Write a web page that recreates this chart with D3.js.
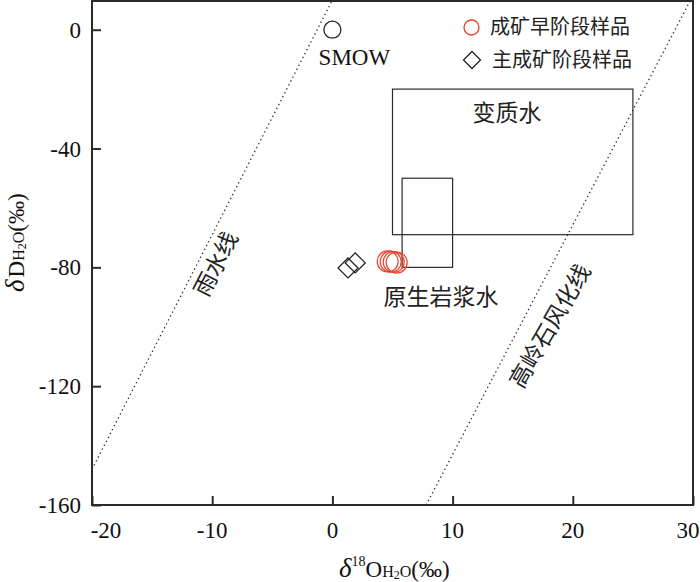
<!DOCTYPE html>
<html><head><meta charset="utf-8">
<script src="https://cdn.jsdelivr.net/npm/d3@7"></script>
<style>
body{margin:0;background:#fff;}
svg{display:block;}
.serif{font-family:"Liberation Serif","Times New Roman",serif;}
.cjk{font-family:"Noto Sans CJK SC","Noto Sans CJK JP",sans-serif;}
</style></head>
<body>
<svg id="chart" width="700" height="582"></svg>
<script>
// ---- data ----
const xTicks = [-20, -10, 0, 10, 20, 30];
const yTicks = [-160, -120, -80, -40, 0];
const smow = [{x: 0, y: 0}];
const earlyStage = [{x: 4.6, y: -78.0}, {x: 4.85, y: -78.1}, {x: 5.1, y: -78.2}, {x: 5.35, y: -78.4}];
const mainStage = [{x: 1.3, y: -80.2}, {x: 1.9, y: -78.5}];
const boxes = [
  {name: "变质水", x0: 5, x1: 25, y0: -69, y1: -20},
  {name: "原生岩浆水", x0: 5.8, x1: 10, y0: -80, y1: -50}
];
const meteoricLine = [{x: -20, y: -148}, {x: 0, y: 10}];
const kaoliniteLine = [{x: 7.8, y: -160}, {x: 29.8, y: 10}];
const legendItems = ["成矿早阶段样品", "主成矿阶段样品"];

// ---- layout ----
const svg = d3.select("#chart");
const X0 = 92, X1 = 693, Y0 = 505, Y1 = 0;
const x = d3.scaleLinear().domain([-20, 30]).range([X0, X1]);
const y = d3.scaleLinear().domain([-160, 10]).range([Y0, Y1]);
const ink = "#2b2b2b";
const red = "#e8432c";

// clip
svg.append("defs").append("clipPath").attr("id", "clip")
  .append("rect").attr("x", X0).attr("y", Y1).attr("width", X1 - X0).attr("height", Y0 - Y1);

// dotted lines
const line = d3.line().x(d => x(d.x)).y(d => y(d.y));
[meteoricLine, kaoliniteLine].forEach(l => {
  svg.append("path").attr("d", line(l)).attr("clip-path", "url(#clip)")
    .attr("fill", "none").attr("stroke", "#333").attr("stroke-width", 1.3)
    .attr("stroke-dasharray", "1.4,3");
});

// boxes
svg.selectAll("rect.box").data(boxes).enter().append("rect").attr("class", "box")
  .attr("x", d => x(d.x0)).attr("y", d => y(d.y1))
  .attr("width", d => x(d.x1) - x(d.x0)).attr("height", d => y(d.y0) - y(d.y1))
  .attr("fill", "none").attr("stroke", ink).attr("stroke-width", 1.2);

// frame
svg.append("rect").attr("x", X0).attr("y", Y1 + 1).attr("width", X1 - X0).attr("height", Y0 - Y1 - 1)
  .attr("fill", "none").attr("stroke", ink).attr("stroke-width", 2);

// axes (ticks inward)
const xAxis = d3.axisTop(x).tickValues(xTicks).tickSize(9).tickFormat("");
const gx = svg.append("g").attr("transform", `translate(0,${Y0})`).call(xAxis);
gx.select(".domain").remove();
gx.selectAll("line").attr("stroke", ink).attr("stroke-width", 2);
const yAxis = d3.axisRight(y).tickValues(yTicks).tickSize(9).tickFormat("");
const gy = svg.append("g").attr("transform", `translate(${X0},0)`).call(yAxis);
gy.select(".domain").remove();
gy.selectAll("line").attr("stroke", ink).attr("stroke-width", 2);

// tick labels
svg.selectAll("text.xt").data(xTicks).enter().append("text").attr("class", "serif")
  .attr("x", d => Math.max(106, Math.min(x(d), 688))).attr("y", 538).attr("text-anchor", "middle")
  .attr("font-size", 23).attr("fill", "#111").text(d => d);
svg.selectAll("text.yt").data(yTicks).enter().append("text").attr("class", "serif")
  .attr("x", 81).attr("y", d => y(d) + 8).attr("text-anchor", "end")
  .attr("font-size", 23).attr("fill", "#111").text(d => d);

// axis titles
const xt = svg.append("text").attr("class", "serif").attr("x", 339).attr("y", 577)
  .attr("font-size", 23).attr("fill", "#111");
xt.append("tspan").attr("font-style", "italic").attr("font-size", 27).text("δ");
xt.append("tspan").attr("font-size", 14).attr("dy", -11).text("18");
xt.append("tspan").attr("dy", 11).text("O");
xt.append("tspan").attr("font-size", 16).text("H");
xt.append("tspan").attr("font-size", 12).attr("dy", 2).text("2");
xt.append("tspan").attr("font-size", 16).attr("dy", -2).text("O");
xt.append("tspan").text("(‰)");

const yt = svg.append("text").attr("class", "serif")
  .attr("transform", "translate(24,292) rotate(-90)")
  .attr("font-size", 23).attr("fill", "#111");
yt.append("tspan").attr("font-style", "italic").attr("font-size", 27).text("δ");
yt.append("tspan").attr("dx", 2).text("D");
yt.append("tspan").attr("font-size", 16).text("H");
yt.append("tspan").attr("font-size", 12).attr("dy", 2).text("2");
yt.append("tspan").attr("font-size", 16).attr("dy", -2).text("O");
yt.append("tspan").text("(‰)");

// markers
svg.selectAll("circle.smow").data(smow).enter().append("circle")
  .attr("cx", d => x(d.x)).attr("cy", d => y(d.y)).attr("r", 8.5)
  .attr("fill", "none").attr("stroke", "#222").attr("stroke-width", 1.3);
svg.append("text").attr("class", "serif").attr("x", x(0) + 22).attr("y", 65)
  .attr("text-anchor", "middle").attr("font-size", 23).attr("fill", "#111").text("SMOW");

const diamond = (cx, cy, r) => `M${cx},${cy - r}L${cx + r},${cy}L${cx},${cy + r}L${cx - r},${cy}Z`;
svg.selectAll("path.ms").data(mainStage).enter().append("path")
  .attr("d", d => diamond(x(d.x), y(d.y), 10))
  .attr("fill", "none").attr("stroke", "#222").attr("stroke-width", 1.3);
svg.selectAll("circle.es").data(earlyStage).enter().append("circle")
  .attr("cx", d => x(d.x)).attr("cy", d => y(d.y)).attr("r", 10.5)
  .attr("fill", "none").attr("stroke", red).attr("stroke-width", 1.2);

// box labels
svg.append("text").attr("class", "cjk").attr("x", 507).attr("y", 121)
  .attr("text-anchor", "middle").attr("font-size", 23).attr("fill", "#222").text(boxes[0].name);
svg.append("text").attr("class", "cjk").attr("x", 441).attr("y", 305)
  .attr("text-anchor", "middle").attr("font-size", 23).attr("fill", "#222").text(boxes[1].name);

// line labels
svg.append("text").attr("class", "cjk").attr("transform", "translate(216,264) rotate(-63)")
  .attr("text-anchor", "middle").attr("dy", 8).attr("font-size", 23).attr("fill", "#222").text("雨水线");
svg.append("text").attr("class", "cjk").attr("transform", "translate(550,326) rotate(-60)")
  .attr("text-anchor", "middle").attr("dy", 8).attr("font-size", 23).attr("fill", "#222").text("高岭石风化线");

// legend
svg.append("circle").attr("cx", 471.5).attr("cy", 27.5).attr("r", 7.5)
  .attr("fill", "none").attr("stroke", red).attr("stroke-width", 1.3);
svg.append("path").attr("d", diamond(472, 60, 8.5))
  .attr("fill", "none").attr("stroke", "#222").attr("stroke-width", 1.3);
svg.selectAll("text.leg").data(legendItems).enter().append("text").attr("class", "cjk")
  .attr("x", (d, i) => i === 0 ? 490 : 492).attr("y", (d, i) => 34 + i * 33)
  .attr("font-size", 20).attr("fill", "#222").text(d => d);
</script>
</body></html>
